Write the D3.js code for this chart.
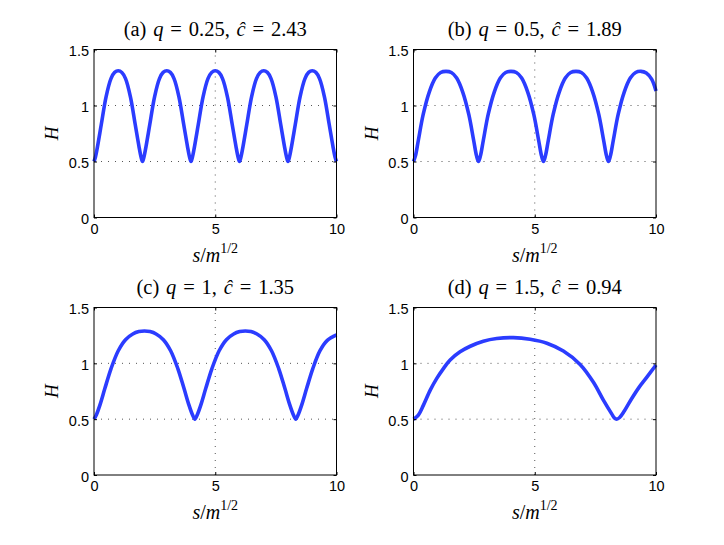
<!DOCTYPE html>
<html>
<head>
<meta charset="utf-8">
<script src="https://cdn.jsdelivr.net/npm/d3@7"></script>
<style>
  body { margin: 0; background: #fff; }
  svg { display: block; }
  .serif { font-family: "Liberation Serif", "Times New Roman", serif; fill: #000; }
</style>
</head>
<body>
<svg width="724" height="545"></svg>
<script>
var width = 724;
var height = 545;

// panel titles (label, q, c-hat)
var panelLabels = ["(a)", "(b)", "(c)", "(d)"];
var qValues = ["0.25", "0.5", "1", "1.5"];
var cValues = ["2.43", "1.89", "1.35", "0.94"];

// axis ticks
var xTicks = [0, 5, 10];
var yTicks = [0, 0.5, 1, 1.5];
var xGrid = [5];
var yGrid = [0.5, 1];

// (a) q = 0.25
var sA = [0,0.06,0.15,0.3,0.5,0.7,0.85,1,1.15,1.3,1.5,1.7,1.85,1.94,
  2,2.06,2.15,2.3,2.5,2.7,2.85,3,3.15,3.3,3.5,3.7,3.85,3.94,
  4,4.06,4.15,4.3,4.5,4.7,4.85,5,5.15,5.3,5.5,5.7,5.85,5.94,
  6,6.06,6.15,6.3,6.5,6.7,6.85,7,7.15,7.3,7.5,7.7,7.85,7.94,
  8,8.06,8.15,8.3,8.5,8.7,8.85,9,9.15,9.3,9.5,9.7,9.85,9.94,10];
var hA = [0.5,0.54,0.64,0.83,1.08,1.24,1.295,1.31,1.295,1.24,1.08,0.83,0.64,0.54,
  0.5,0.54,0.64,0.83,1.08,1.24,1.295,1.31,1.295,1.24,1.08,0.83,0.64,0.54,
  0.5,0.54,0.64,0.83,1.08,1.24,1.295,1.31,1.295,1.24,1.08,0.83,0.64,0.54,
  0.5,0.54,0.64,0.83,1.08,1.24,1.295,1.31,1.295,1.24,1.08,0.83,0.64,0.54,
  0.5,0.54,0.64,0.83,1.08,1.24,1.295,1.31,1.295,1.24,1.08,0.83,0.64,0.54,0.5];

// (b) q = 0.5
var sB = [0,0.08,0.2,0.4,0.65,0.9,1.12,1.34,1.56,1.78,2.03,2.28,2.48,2.6,
  2.68,2.76,2.88,3.08,3.33,3.58,3.8,4.02,4.24,4.46,4.71,4.96,5.16,5.28,
  5.36,5.44,5.56,5.76,6.01,6.26,6.48,6.7,6.92,7.14,7.39,7.64,7.84,7.96,
  8.04,8.12,8.24,8.44,8.69,8.94,9.16,9.38,9.6,9.82,10];
var hB = [0.5,0.55,0.69,0.92,1.12,1.245,1.295,1.305,1.295,1.245,1.12,0.92,0.69,0.55,
  0.5,0.55,0.69,0.92,1.12,1.245,1.295,1.305,1.295,1.245,1.12,0.92,0.69,0.55,
  0.5,0.55,0.69,0.92,1.12,1.245,1.295,1.305,1.295,1.245,1.12,0.92,0.69,0.55,
  0.5,0.55,0.69,0.92,1.12,1.245,1.295,1.305,1.29,1.235,1.13];

// (c) q = 1
var sC = [0,0.1,0.25,0.45,0.7,1,1.3,1.6,1.85,2.08,2.31,2.56,2.86,3.16,3.46,3.71,3.91,4.06,
  4.16,4.26,4.41,4.61,4.86,5.16,5.46,5.76,6.01,6.24,6.47,6.72,7.02,7.32,7.62,7.87,8.07,8.22,
  8.32,8.42,8.57,8.77,9.02,9.32,9.62,10];
var hC = [0.5,0.54,0.63,0.776,0.951,1.113,1.212,1.263,1.284,1.29,1.284,1.263,1.212,1.113,0.951,0.776,0.63,0.54,
  0.5,0.54,0.63,0.776,0.951,1.113,1.212,1.263,1.284,1.29,1.284,1.263,1.212,1.113,0.951,0.776,0.63,0.54,
  0.5,0.54,0.63,0.776,0.951,1.113,1.205,1.255];

// (d) q = 1.5
var sD = [0,0.2,0.41,0.69,0.96,1.24,1.51,1.92,2.34,2.88,3.43,4.12,4.81,5.5,6.18,6.87,7.42,7.83,8.18,8.28,8.38,8.5,8.7,9.0,9.3,9.6,10];
var hD = [0.5,0.537,0.626,0.76,0.865,0.955,1.03,1.103,1.153,1.198,1.222,1.23,1.215,1.18,1.11,0.99,0.83,0.67,0.545,0.512,0.5,0.515,0.575,0.685,0.785,0.87,0.985];

var seriesS = [sA, sB, sC, sD];
var seriesH = [hA, hB, hC, hD];

// plot boxes [left, top, right, bottom]
var boxes = [
  [94, 49.5, 336.5, 217.5],
  [413.5, 49.5, 656, 217.5],
  [94, 307.5, 336.5, 475],
  [413.5, 307.5, 656, 475]
];

var svg = d3.select("svg");
svg.append("rect").attr("width", width).attr("height", height).attr("fill", "#fff");

for (var p = 0; p < 4; p++) {
  drawPanel(p);
}

function drawPanel(p) {
  var b = boxes[p];
  var x = d3.scaleLinear().domain([0, 10]).range([b[0], b[2]]);
  var y = d3.scaleLinear().domain([0, 1.5]).range([b[3], b[1]]);
  var g = svg.append("g");

  // dotted grid
  g.selectAll(".gy").data(yGrid).enter().append("line")
    .attr("x1", b[0]).attr("x2", b[2])
    .attr("y1", function (d) { return y(d); })
    .attr("y2", function (d) { return y(d); })
    .attr("stroke", "#555").attr("stroke-width", 1)
    .attr("stroke-dasharray", "1,6");
  g.selectAll(".gx").data(xGrid).enter().append("line")
    .attr("y1", b[3]).attr("y2", b[1])
    .attr("x1", function (d) { return x(d); })
    .attr("x2", function (d) { return x(d); })
    .attr("stroke", "#555").attr("stroke-width", 1)
    .attr("stroke-dasharray", "1,6");

  // curve
  var pts = seriesS[p].map(function (s, i) { return [s, seriesH[p][i]]; });
  var line = d3.line()
    .x(function (d) { return x(d[0]); })
    .y(function (d) { return y(d[1]); })
    .curve(d3.curveCatmullRom.alpha(0.5));
  g.append("path").datum(pts)
    .attr("d", line)
    .attr("fill", "none")
    .attr("stroke", "#2b3cff")
    .attr("stroke-width", 3.6)
    .attr("stroke-linejoin", "round");

  // axes with inward ticks
  var xAxis = d3.axisBottom(x).tickValues(xTicks).tickSizeInner(-3).tickSizeOuter(0).tickPadding(6);
  var yAxis = d3.axisLeft(y).tickValues(yTicks).tickSizeInner(-3).tickSizeOuter(0).tickPadding(5)
    .tickFormat(function (d) { return d; });
  var ax = g.append("g").attr("transform", "translate(0," + b[3] + ")").call(xAxis);
  var ay = g.append("g").attr("transform", "translate(" + b[0] + ",0)").call(yAxis);
  var at = g.append("g").attr("transform", "translate(0," + b[1] + ")")
    .call(d3.axisTop(x).tickValues(xTicks).tickSizeInner(-3).tickSizeOuter(0).tickFormat(""));
  var ar = g.append("g").attr("transform", "translate(" + b[2] + ",0)")
    .call(d3.axisRight(y).tickValues(yTicks).tickSizeInner(-3).tickSizeOuter(0).tickFormat(""));
  [ax, ay, at, ar].forEach(function (a) {
    a.select(".domain").remove();
    a.selectAll(".tick line").attr("stroke", "#000");
    a.attr("font-family", "\"Liberation Sans\", Arial, sans-serif").attr("font-size", 14.5);
    a.selectAll(".tick text").attr("fill", "#000");
  });
  ay.selectAll(".tick text").attr("dy", "6");
  ax.selectAll(".tick text").attr("dy", "10");

  // box
  g.append("rect")
    .attr("x", b[0]).attr("y", b[1])
    .attr("width", b[2] - b[0]).attr("height", b[3] - b[1])
    .attr("fill", "none").attr("stroke", "#000").attr("stroke-width", 1);

  var cx = (b[0] + b[2]) / 2;

  // title
  var t = g.append("text").attr("class", "serif")
    .attr("x", cx).attr("y", b[1] - 13.5)
    .attr("text-anchor", "middle").attr("font-size", "20.5px");
  t.append("tspan").text(panelLabels[p] + "\u2004");
  t.append("tspan").attr("font-style", "italic").text("q");
  t.append("tspan").text("\u2004=\u2004" + qValues[p] + ",\u2004");
  t.append("tspan").attr("font-style", "italic").text("\u0109");
  t.append("tspan").text("\u2004=\u2004" + cValues[p]);

  // x label
  var xl = g.append("text").attr("class", "serif")
    .attr("x", cx).attr("y", b[3] + 44)
    .attr("text-anchor", "middle").attr("font-size", "20px");
  xl.append("tspan").attr("font-style", "italic").text("s");
  xl.append("tspan").text("/");
  xl.append("tspan").attr("font-style", "italic").text("m");
  xl.append("tspan").attr("font-size", "14px").attr("dy", "-9").text("1/2");

  // y label
  g.append("text").attr("class", "serif")
    .attr("transform", "translate(" + (b[0] - 36) + "," + ((b[1] + b[3]) / 2) + ") rotate(-90)")
    .attr("text-anchor", "middle").attr("font-size", "19px")
    .attr("font-style", "italic").text("H");
}
</script>
</body>
</html>
